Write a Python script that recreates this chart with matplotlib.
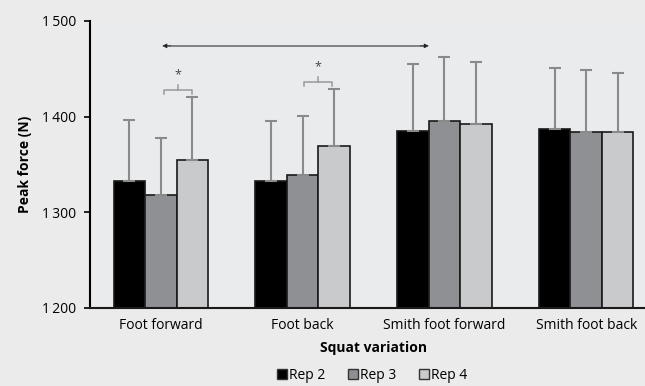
import matplotlib.pyplot as plt
import numpy as np

plt.rcParams['font.family'] = ['Open Sans', 'DejaVu Sans']

# Peak force per squat variation (mean and SD)
categories = ['Foot forward', 'Foot back', 'Smith foot forward', 'Smith foot back']
series = ['Rep 2', 'Rep 3', 'Rep 4']
means = {
    'Rep 2': [1333, 1333, 1385, 1387],
    'Rep 3': [1318, 1339, 1395, 1384],
    'Rep 4': [1355, 1369, 1392, 1384],
}
sds = {
    'Rep 2': [63, 62, 70, 64],
    'Rep 3': [60, 62, 67, 65],
    'Rep 4': [66, 60, 65, 62],
}
colors = ['#000000', '#8f9093', '#c9cacc']
yticks = [1200, 1300, 1400, 1500]
ytick_labels = ['1\u2009200', '1\u2009300', '1\u2009400', '1\u2009500']

fig = plt.figure(figsize=(6.45, 3.86), dpi=100)
fig.patch.set_facecolor('#ebebeb')
ax = fig.add_axes([90 / 645, 78 / 386, 567 / 645, 287 / 386])
ax.set_facecolor('#eaebed')

x = np.arange(len(categories))
w = 0.222
for i, s in enumerate(series):
    pos = x + (i - 1) * w
    ax.bar(pos, means[s], w, bottom=0, color=colors[i], edgecolor='#1a1a1a',
           linewidth=1.2, label=s, zorder=2)
    ax.errorbar(pos, means[s], yerr=[np.zeros(len(categories)), sds[s]],
                fmt='none', ecolor='#8a8a8a', elinewidth=1.5, capsize=4,
                capthick=1.5, zorder=3)

ax.set_xlim(-0.5, 3.5)
ax.set_ylim(1200, 1500)
ax.set_yticks(yticks)
ax.set_yticklabels(ytick_labels, fontsize=10)
ax.set_xticks(x)
ax.set_xticklabels(categories, fontsize=10)
ax.tick_params(axis='x', length=0, pad=7)
ax.tick_params(axis='y', length=4, width=1.2, direction='out', pad=6)
for side in ['top', 'right']:
    ax.spines[side].set_visible(False)
ax.spines['left'].set_linewidth(1.5)
ax.spines['bottom'].set_linewidth(1.5)
ax.spines['bottom'].set_color('#1a1a1a')

ax.set_ylabel('Peak force (N)', fontsize=10, fontweight='bold', labelpad=7)
ax.set_xlabel('Squat variation', fontsize=10, fontweight='bold', labelpad=6)

# significance arrow between Foot forward and Smith foot forward
y_arrow = 1474
x_a0, x_a1 = 0.01, 1.89
ax.plot([x_a0 + 0.03, x_a1 - 0.03], [y_arrow, y_arrow], color='#7a7a7a', lw=1.3)
for tip, tail in [(x_a0, x_a0 + 0.06), (x_a1, x_a1 - 0.06)]:
    ax.annotate('', xy=(tip, y_arrow), xytext=(tail, y_arrow),
                arrowprops=dict(arrowstyle='-|>', color='#222222', lw=0.5,
                                mutation_scale=7, shrinkA=0, shrinkB=0))

# brackets Rep 3 vs Rep 4
def bracket(x0, x1, y):
    ax.plot([x0, x0, x1, x1], [y - 4, y, y, y - 4], color='#999999', lw=1.1)
    xm = (x0 + x1) / 2
    ax.plot([xm, xm], [y, y + 5], color='#999999', lw=1.1)
    ax.text(xm, y + 9, '*', ha='center', va='bottom', fontsize=9, color='#444444')

bracket(0.02, 0.22, 1428)
bracket(1.01, 1.21, 1436)

leg = fig.legend(loc='lower center', bbox_to_anchor=(372 / 645, -0.024), ncol=3,
                 frameon=False, fontsize=10, handlelength=0.75, handleheight=0.75,
                 handletextpad=0.15, columnspacing=1.6)
for h in leg.legend_handles:
    h.set_edgecolor('#333333')
    h.set_linewidth(1)

fig.savefig('out.png', dpi=100, facecolor=fig.get_facecolor())
